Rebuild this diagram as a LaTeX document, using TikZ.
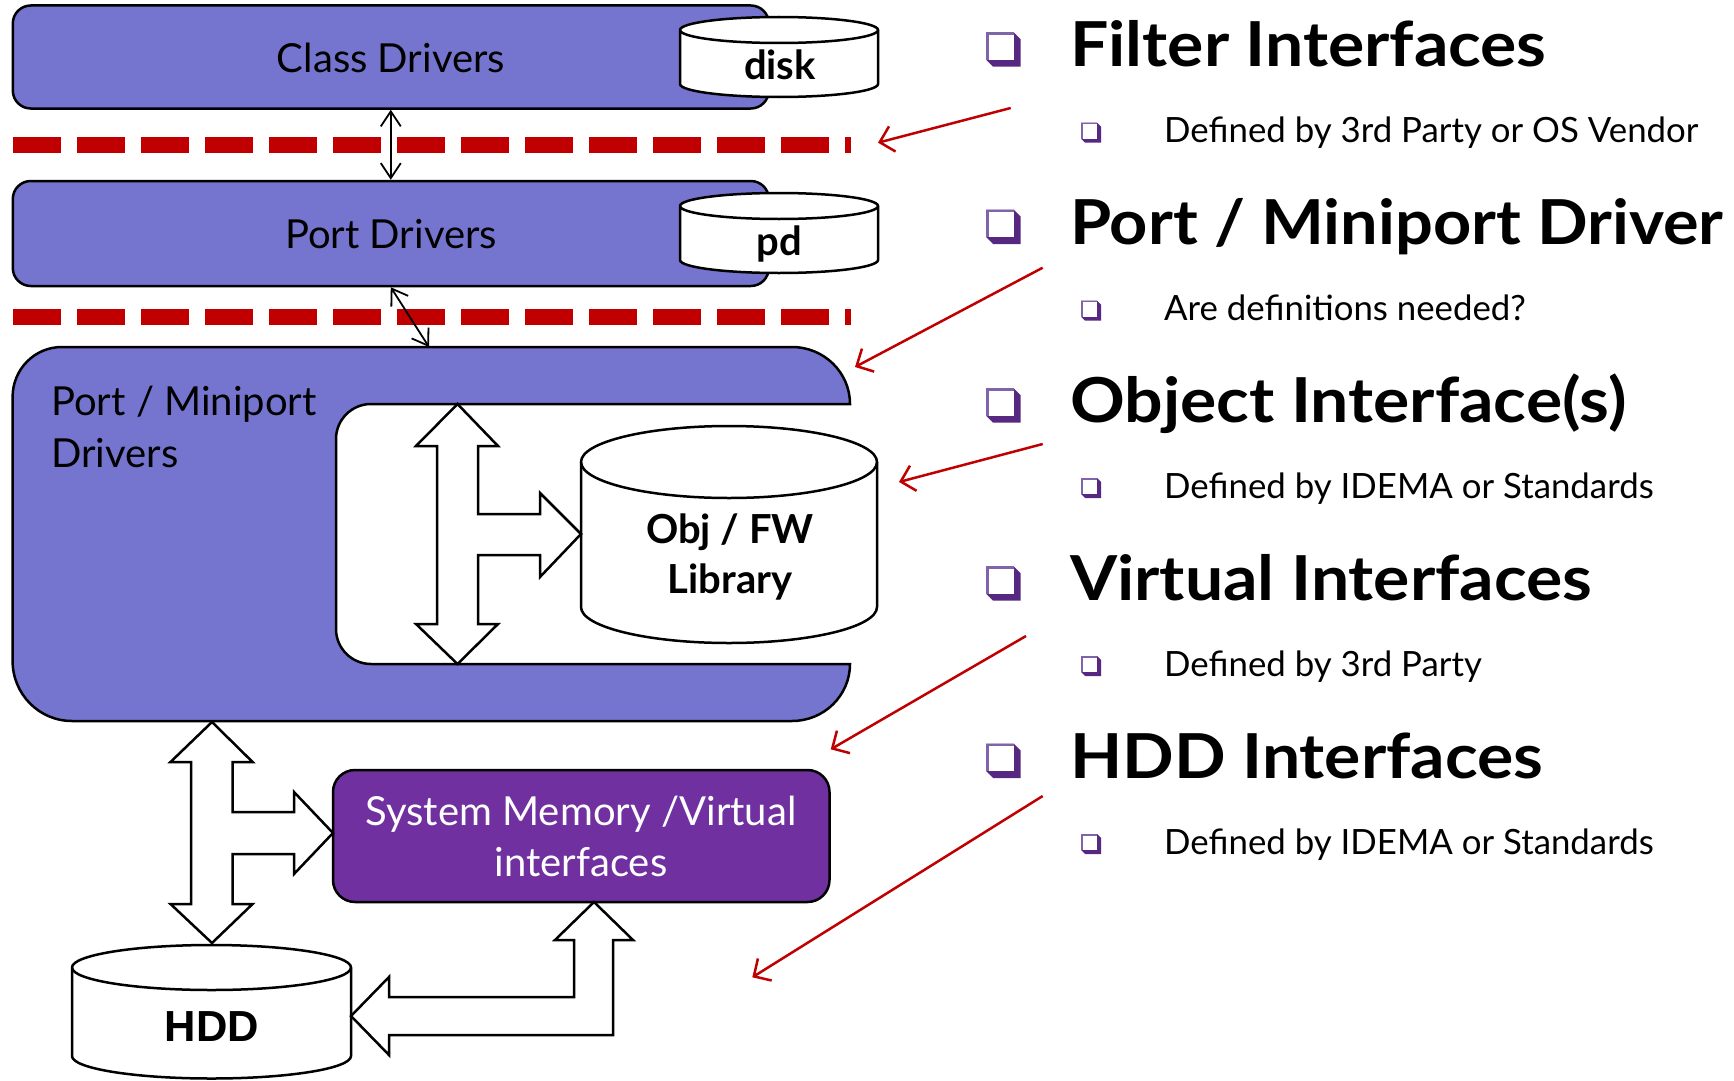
\documentclass[tikz,border=0pt]{standalone}
\usepackage{fontspec}
\usepackage{graphicx}
\setmainfont{Lato}
\newfontfamily\hddfont{Liberation Sans}
\usetikzlibrary{arrows.meta}
\definecolor{peri}{RGB}{117,117,207}
\definecolor{sysmem}{RGB}{112,48,160}
\definecolor{redline}{RGB}{192,0,0}
\definecolor{buldark}{RGB}{87,40,130}
\definecolor{bullight}{RGB}{128,100,170}
\newcommand{\widehead}[2][1.095]{\scalebox{#1}[1]{#2}}
\tikzset{
  box/.style={draw=black, line width=2.5pt, fill=peri, rounded corners=18pt, inner sep=0pt},
  outline/.style={draw=black, line width=2.5pt, fill=white},
  blockarrow/.style={draw=black, line width=2.5pt, fill=white, line join=miter},
  boxlabel/.style={inner sep=0pt, anchor=base, font=\fontsize{40}{46}\selectfont},
  cyllabel/.style={inner sep=0pt, anchor=base, font=\fontsize{40}{46}\selectfont\bfseries},
  heading/.style={inner sep=0pt, anchor=base west, font=\fontsize{62}{70}\selectfont\bfseries},
  subtext/.style={inner sep=0pt, anchor=base west, font=\fontsize{34.8}{40}\selectfont},
  barrier/.style={draw=redline, line width=16pt, dash pattern=on 48pt off 16pt},
  thinarrow/.style={draw=black, line width=1.8pt, {Straight Barb[length=15pt,width=20pt]}-{Straight Barb[length=15pt,width=20pt]}},
  redarrow/.style={draw=redline, line width=2.5pt, -{Straight Barb[length=13pt,width=26pt]}},
}
% cylinder: left, right, top-centre y, bottom-centre y, y radius
\newcommand{\mycyl}[5]{%
  \path[outline] (#1,#3) -- (#1,#4)
    .. controls (#1,{#4+0.5523*#5}) and ({(#1+#2)/2-0.5523*(#2-#1)/2},{#4+#5}) .. ({(#1+#2)/2},{#4+#5})
    .. controls ({(#1+#2)/2+0.5523*(#2-#1)/2},{#4+#5}) and (#2,{#4+0.5523*#5}) .. (#2,#4)
    -- (#2,#3)
    .. controls (#2,{#3-0.5523*#5}) and ({(#1+#2)/2+0.5523*(#2-#1)/2},{#3-#5}) .. ({(#1+#2)/2},{#3-#5})
    .. controls ({(#1+#2)/2-0.5523*(#2-#1)/2},{#3-#5}) and (#1,{#3-0.5523*#5}) .. (#1,#3) -- cycle;
  \draw[draw=black, line width=2.5pt] (#1,#3)
    .. controls (#1,{#3+0.5523*#5}) and ({(#1+#2)/2-0.5523*(#2-#1)/2},{#3+#5}) .. ({(#1+#2)/2},{#3+#5})
    .. controls ({(#1+#2)/2+0.5523*(#2-#1)/2},{#3+#5}) and (#2,{#3+0.5523*#5}) .. (#2,#3);
}
% bullet: x0, bottom y, size, thin border, thick border
\newcommand{\mybul}[5]{%
  \fill[buldark] (#1,{#2-#3}) -- ({#1+#3-#5},{#2-#3}) -- ({#1+#3},{#2-#3+#5}) -- ({#1+#3},#2) -- ({#1+#5},#2) -- (#1,{#2-#5}) -- cycle;
  \fill[bullight] (#1,{#2-#3}) rectangle ({#1+#3-#5},{#2-#5});
  \fill[white] ({#1+#4},{#2-#3+#4}) rectangle ({#1+#3-#5},{#2-#5});
}
\begin{document}
\begin{tikzpicture}[x=1pt, y=-1pt]
\useasboundingbox (0,0) rectangle (1734,1081);
\fill[white] (0,0) rectangle (1734,1081);

% Class drivers
\node[box, minimum width=756pt, minimum height=103pt] (cd) at (390.8,57) {};
\node[boxlabel] (cdt) at (391,72.7) {Class Drivers};
\mycyl{680}{878}{30}{84}{13}
\node[cyllabel] (disk) at (780,79) {disk};

% Port drivers
\node[box, minimum width=756pt, minimum height=105pt] (pdrv) at (390.8,233.5) {};
\node[boxlabel] (pdt) at (391,248) {Port Drivers};
\mycyl{680}{878}{206}{260}{13}
\node[cyllabel] (pd) at (779,255) {pd};

% dashed barriers
\coordinate (b1l) at (12.6,145); \coordinate (b1r) at (851,145);
\coordinate (b2l) at (12.6,317); \coordinate (b2r) at (851,317);
\draw[barrier] (b1l) -- (b1r);
\draw[barrier] (b2l) -- (b2r);

% Port / Miniport shape
\path[draw=black, line width=2.5pt, fill=peri]
  (62,347) -- (792,347) .. controls (824,347) and (850,372.5) .. (850,404)
  -- (371,404) .. controls (351.7,404) and (336,419.7) .. (336,439)
  -- (336,629) .. controls (336,648.3) and (351.7,664) .. (371,664)
  -- (850,664) .. controls (850,695.5) and (824,721) .. (792,721)
  -- (72,721) .. controls (39,721) and (12.6,694) .. (12.6,661)
  -- (12.6,397) .. controls (12.6,369.4) and (34.4,347) .. (62,347) -- cycle;
\node[boxlabel, anchor=base west] (pm1) at (51,415) {Port / Miniport};
\node[boxlabel, anchor=base west] (pm2) at (51,467) {Drivers};
\coordinate (pmtop) at (429,347);

% thin arrows
\draw[thinarrow] (cd.south) -- (pdrv.north);
\draw[thinarrow] (pdrv.south) -- (pmtop);

% Obj / FW library
\mycyl{581}{877}{462}{607}{36}
\node[cyllabel] (obj1) at (730,543) {Obj / FW};
\node[cyllabel] (obj2) at (730,593) {Library};

% inner block arrow
\path[blockarrow] (457.5,404) -- (498,446) -- (478,446) -- (478,514) -- (540,514) -- (540,493)
  -- (581,534) -- (540,577) -- (540,555) -- (478,555) -- (478,624) -- (498,624)
  -- (457.5,664) -- (416,624) -- (437,624) -- (437,446) -- (416,446) -- cycle;

% System memory
\node[draw=black, line width=2.5pt, fill=sysmem, rounded corners=22pt, inner sep=0pt,
      minimum width=496.5pt, minimum height=132pt] (sm) at (581.25,836) {};
\node[boxlabel, text=white] (smt1) at (581,825) {System Memory /Virtual};
\node[boxlabel, text=white] (smt2) at (581,876) {interfaces};

% HDD
\mycyl{72}{351}{967.5}{1056}{22.5}
\node[inner sep=0pt, anchor=base, font=\fontsize{43.5}{48}\selectfont\hddfont\bfseries] (hdd) at (212,1041.5) {HDD};

% lower block arrows
\path[blockarrow] (212,722) -- (252.6,762) -- (232.5,762) -- (232.5,812) -- (294,812) -- (294,792)
  -- (333,833) -- (294,874) -- (294,854) -- (232.5,854) -- (232.5,904) -- (252.6,904)
  -- (212,943) -- (170.5,904) -- (191,904) -- (191,762) -- (170.5,762) -- cycle;
\path[blockarrow] (594,902) -- (633,940) -- (613,940) -- (613,1035) -- (389,1035) -- (389,1055)
  -- (351,1016) -- (389,977) -- (389,997) -- (574,997) -- (574,940) -- (555,940) -- cycle;

% right-hand list
\mybul{986}{66.7}{34.5}{2.5}{7}
\mybul{986}{244}{34.5}{2.5}{7}
\mybul{986}{422.7}{34.5}{2.5}{7}
\mybul{986}{600.7}{34.5}{2.5}{7}
\mybul{986}{778}{34.5}{2.5}{7}
\mybul{1081}{142.7}{20}{1.5}{4}
\mybul{1081}{320.7}{20}{1.5}{4}
\mybul{1081}{498}{20}{1.5}{4}
\mybul{1081}{676}{20}{1.5}{4}
\mybul{1081}{854}{20}{1.5}{4}

\node[heading] (h1) at (1070,66.7) {\widehead{Filter Interfaces}};
\node[subtext] (s1) at (1164,142.7) {Defined by 3rd Party or OS Vendor};
\node[heading] (h2) at (1070,244) {\widehead[1.075]{Port / Miniport Driver}};
\node[subtext] (s2) at (1164,320.7) {Are definitions needed?};
\node[heading] (h3) at (1070,422.7) {\widehead{Object Interface(s)}};
\node[subtext] (s3) at (1164,498) {Defined by IDEMA or Standards};
\node[heading] (h4) at (1070,600.7) {\widehead{Virtual Interfaces}};
\node[subtext] (s4) at (1164,676) {Defined by 3rd Party};
\node[heading] (h5) at (1070,778) {\widehead{HDD Interfaces}};
\node[subtext] (s5) at (1164,854) {Defined by IDEMA or Standards};

% red pointer arrows
\coordinate (r1s) at (1010.7,108);  \coordinate (r1e) at (878,142.7);
\coordinate (r2s) at (1042.7,267.7); \coordinate (r2e) at (855,367);
\coordinate (r3s) at (1042.7,444);  \coordinate (r3e) at (899,482);
\coordinate (r4s) at (1026,636);    \coordinate (r4e) at (830.7,749.3);
\coordinate (r5s) at (1042.7,796);  \coordinate (r5e) at (752.3,977.3);
\draw[redarrow] (r1s) -- (r1e);
\draw[redarrow] (r2s) -- (r2e);
\draw[redarrow] (r3s) -- (r3e);
\draw[redarrow] (r4s) -- (r4e);
\draw[redarrow] (r5s) -- (r5e);
\end{tikzpicture}
\end{document}
